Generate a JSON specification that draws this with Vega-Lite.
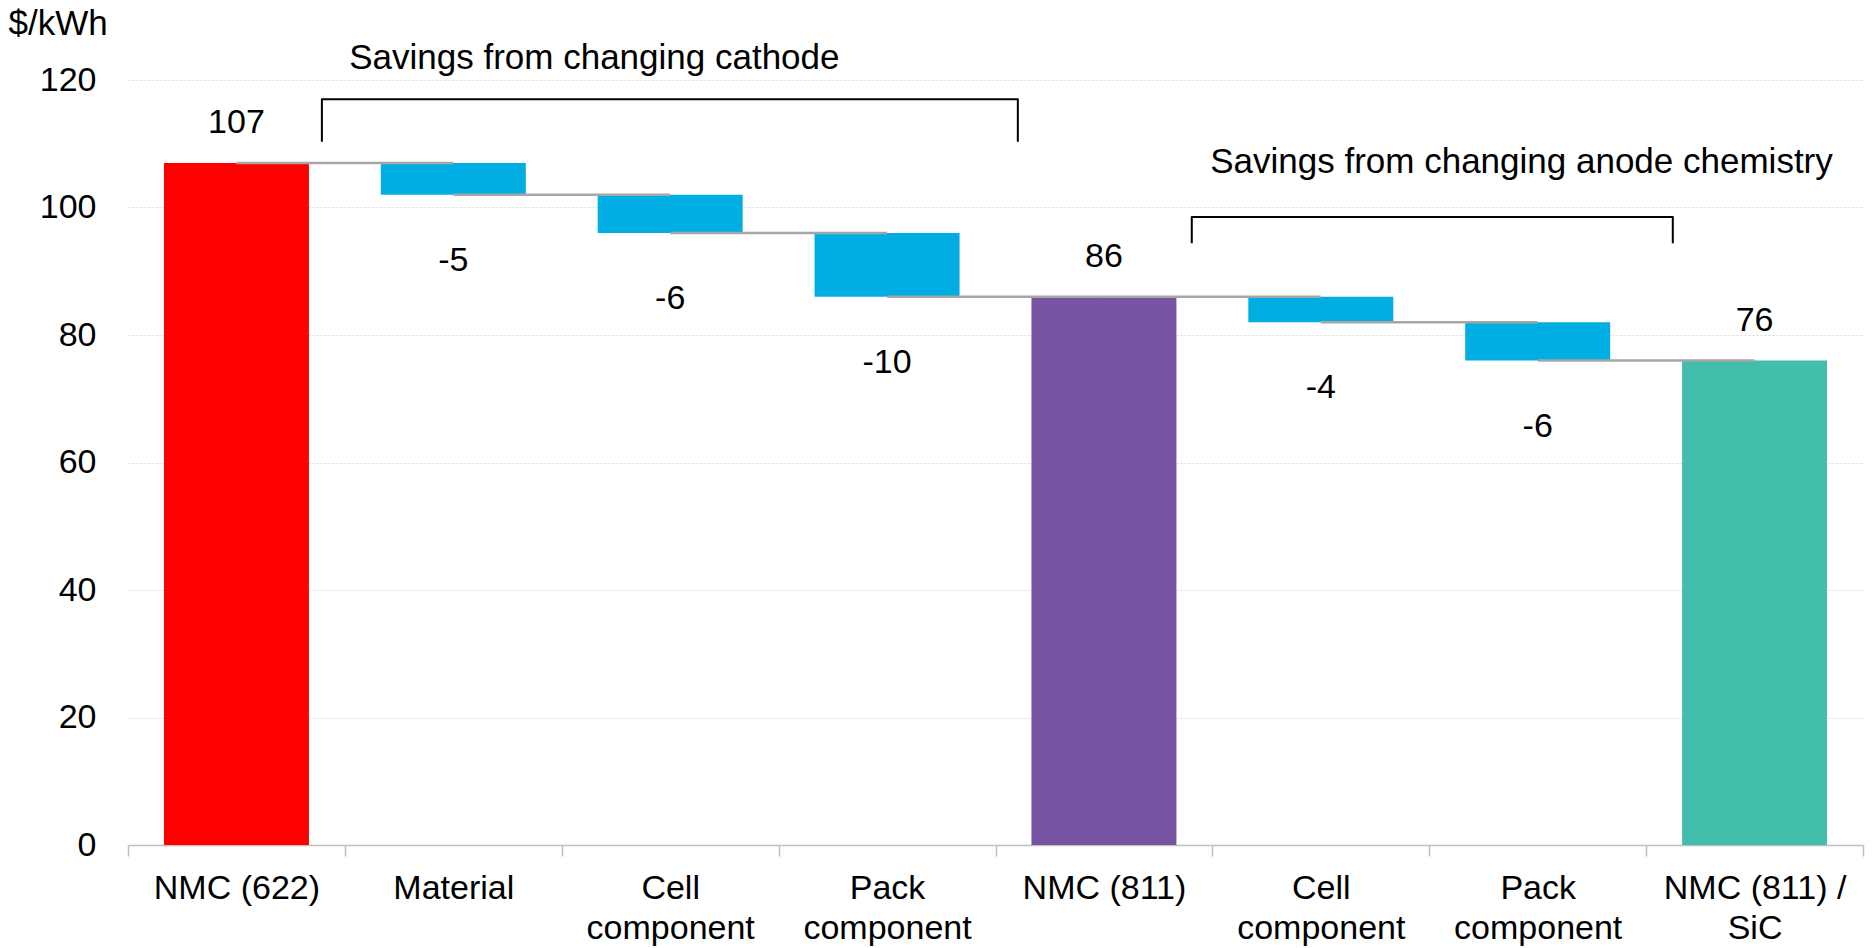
{
  "$schema": "https://vega.github.io/schema/vega-lite/v6.json",
  "width": 1735,
  "height": 765,
  "autosize": {"type": "none"},
  "padding": {"left": 128, "top": 80, "right": 11, "bottom": 103},
  "config": {
    "font": "Liberation Sans",
    "view": {"stroke": null},
    "text": {"font": "Liberation Sans", "fontSize": 34, "color": "#000000"}
  },
  "datasets": {
    "steps": [
      {"step": 1, "name": "NMC (622)", "group": "NMC (622)", "value": 107, "start": 0, "end": 107, "next": 2},
      {"step": 2, "name": "Material", "group": "saving", "value": -5, "start": 107, "end": 102, "next": 3},
      {"step": 3, "name": "Cell component", "group": "saving", "value": -6, "start": 102, "end": 96, "next": 4},
      {"step": 4, "name": "Pack component", "group": "saving", "value": -10, "start": 96, "end": 86, "next": 5},
      {"step": 5, "name": "NMC (811)", "group": "NMC (811)", "value": 86, "start": 0, "end": 86, "next": 6},
      {"step": 6, "name": "Cell component", "group": "saving", "value": -4, "start": 86, "end": 82, "next": 7},
      {"step": 7, "name": "Pack component", "group": "saving", "value": -6, "start": 82, "end": 76, "next": 8},
      {"step": 8, "name": "NMC (811) / SiC", "group": "NMC (811) / SiC", "value": 76, "start": 0, "end": 76, "next": null}
    ],
    "brackets": [
      {"bracket": "cathode", "seq": 1, "x": 1.394, "y": 110.3},
      {"bracket": "cathode", "seq": 2, "x": 1.394, "y": 117.0},
      {"bracket": "cathode", "seq": 3, "x": 4.603, "y": 117.0},
      {"bracket": "cathode", "seq": 4, "x": 4.603, "y": 110.3},
      {"bracket": "anode", "seq": 1, "x": 5.405, "y": 94.4},
      {"bracket": "anode", "seq": 2, "x": 5.405, "y": 98.5},
      {"bracket": "anode", "seq": 3, "x": 7.623, "y": 98.5},
      {"bracket": "anode", "seq": 4, "x": 7.623, "y": 94.4}
    ],
    "notes": [
      {"note": "Savings from changing cathode", "x": 1.52, "y": 123.5},
      {"note": "Savings from changing anode chemistry", "x": 5.49, "y": 107.1}
    ]
  },
  "layer": [
    {
      "data": {"name": "steps"},
      "encoding": {
        "x": {
          "field": "step",
          "type": "ordinal",
          "scale": {"paddingInner": 0, "paddingOuter": 0},
          "axis": {
            "title": null,
            "labelAngle": 0,
            "labelExpr": "[['NMC (622)'],['Material'],['Cell','component'],['Pack','component'],['NMC (811)'],['Cell','component'],['Pack','component'],['NMC (811) /','SiC']][datum.value - 1]",
            "labelFont": "Liberation Sans",
            "labelFontSize": 34,
            "labelColor": "#000000",
            "labelLineHeight": 40,
            "labelBaseline": "top",
            "labelPadding": 15,
            "labelLimit": 0,
            "labelOverlap": false,
            "tickBand": "extent",
            "tickSize": 11,
            "tickColor": "#BFBFBF",
            "tickWidth": 1.5,
            "domainColor": "#BFBFBF",
            "domainWidth": 1.5
          }
        }
      },
      "layer": [
        {
          "mark": {"type": "bar", "width": {"band": 0.6685}},
          "encoding": {
            "y": {
              "field": "end",
              "type": "quantitative",
              "scale": {"domain": [0, 120], "nice": false},
              "axis": {
                "values": [0, 20, 40, 60, 80, 100, 120],
                "title": "$/kWh",
                "titleAngle": 0,
                "titleAlign": "left",
                "titleBaseline": "alphabetic",
                "titleX": -120,
                "titleY": -46,
                "titleFont": "Liberation Sans",
                "titleFontSize": 35,
                "titleFontWeight": "normal",
                "titleColor": "#000000",
                "labelFont": "Liberation Sans",
                "labelFontSize": 34,
                "labelColor": "#000000",
                "labelPadding": 32,
                "ticks": false,
                "domain": false,
                "grid": true,
                "gridColor": "#D9D9D9",
                "gridDash": [2, 2],
                "gridWidth": 1
              }
            },
            "y2": {"field": "start"},
            "color": {
              "field": "group",
              "type": "nominal",
              "scale": {
                "domain": ["NMC (622)", "saving", "NMC (811)", "NMC (811) / SiC"],
                "range": ["#FF0000", "#00AEE4", "#7654A3", "#43BEAC"]
              },
              "legend": null
            }
          }
        },
        {
          "transform": [{"filter": "isValid(datum.next)"}],
          "mark": {"type": "rule", "color": "#A6A6A6", "strokeWidth": 2.5},
          "encoding": {
            "x2": {"field": "next"},
            "y": {"field": "end", "type": "quantitative", "scale": {"domain": [0, 120], "nice": false}}
          }
        },
        {
          "transform": [{"filter": "datum.group != 'saving'"}],
          "mark": {"type": "text", "baseline": "middle", "dy": -40},
          "encoding": {
            "y": {"field": "end", "type": "quantitative", "scale": {"domain": [0, 120], "nice": false}},
            "text": {"field": "value", "type": "nominal"}
          }
        },
        {
          "transform": [{"filter": "datum.group == 'saving'"}],
          "mark": {"type": "text", "baseline": "middle", "dy": 66},
          "encoding": {
            "y": {"field": "end", "type": "quantitative", "scale": {"domain": [0, 120], "nice": false}},
            "text": {"field": "value", "type": "nominal"}
          }
        }
      ]
    },
    {
      "layer": [
        {
          "data": {"name": "brackets"},
          "mark": {"type": "line", "color": "#000000", "strokeWidth": 2, "strokeJoin": "round"},
          "encoding": {
            "x": {"field": "x", "type": "quantitative", "scale": {"domain": [0.5, 8.5], "nice": false, "zero": false}, "axis": null},
            "y": {"field": "y", "type": "quantitative", "scale": {"domain": [0, 120], "nice": false}},
            "detail": {"field": "bracket"},
            "order": {"field": "seq"}
          }
        },
        {
          "data": {"name": "notes"},
          "mark": {"type": "text", "align": "left", "baseline": "middle", "fontSize": 35},
          "encoding": {
            "x": {"field": "x", "type": "quantitative", "scale": {"domain": [0.5, 8.5], "nice": false, "zero": false}, "axis": null},
            "y": {"field": "y", "type": "quantitative", "scale": {"domain": [0, 120], "nice": false}},
            "text": {"field": "note"}
          }
        }
      ]
    }
  ],
  "resolve": {"scale": {"x": "independent"}}
}
